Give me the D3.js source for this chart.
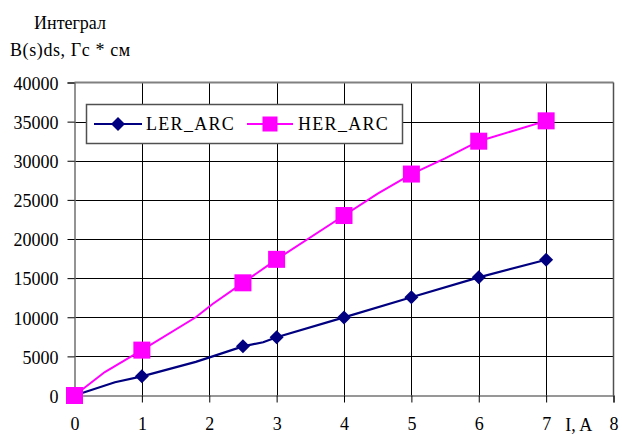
<!DOCTYPE html>
<html>
<head>
<meta charset="utf-8">
<script src="https://cdn.jsdelivr.net/npm/d3@7"></script>
<style>
html,body{margin:0;padding:0;background:#fff;}
svg{display:block;}
</style>
</head>
<body>
<svg id="chart" width="622" height="438"></svg>
<script>
// ---- data ----
const xTicks = [0, 1, 2, 3, 4, 5, 6, 7, 8];
const yTicks = [0, 5000, 10000, 15000, 20000, 25000, 30000, 35000, 40000];
const seriesNames = ["LER_ARC", "HER_ARC"];

const lerMarkX = [0, 1, 2.5, 3, 4, 5, 6, 7];
const lerMarkY = [0, 2450, 6280, 7450, 9980, 12550, 15100, 17350];
const lerLineX = [0, 0.6, 1, 1.8, 2.05, 2.5, 2.8, 3, 4, 5, 6, 7];
const lerLineY = [0, 1700, 2450, 4300, 5000, 6280, 6800, 7450, 9980, 12550, 15100, 17350];

const herMarkX = [0, 1, 2.5, 3, 4, 5, 6, 7];
const herMarkY = [0, 5800, 14400, 17400, 23000, 28300, 32500, 35100];
const herLineX = [0, 0.45, 1, 1.8, 2.05, 2.5, 3, 4, 4.5, 5, 5.5, 6, 7];
const herLineY = [0, 3000, 5800, 10000, 11700, 14400, 17400, 23000, 25800, 28300, 30300, 32500, 35100];

const titleLines = ["Интеграл", "B(s)ds, Гс * см"];
const xLabel = "I, A";

// ---- layout ----
const FONT = "'Liberation Serif', 'DejaVu Serif', 'Times New Roman', serif";
const svg = d3.select("#chart");
const x = d3.scaleLinear().domain([0, 8]).range([74.5, 613.5]);
const y = d3.scaleLinear().domain([0, 40000]).range([395.5, 82.5]);

const LER = "#000080", HER = "#FF00FF";

// grid
const g = svg.append("g");
g.selectAll("line.vg").data(xTicks.slice(1, -1)).enter().append("line")
  .attr("x1", d => Math.round(x(d)) + 0.5).attr("x2", d => Math.round(x(d)) + 0.5)
  .attr("y1", y(40000)).attr("y2", y(0))
  .attr("stroke", "#000").attr("stroke-width", 1);
g.selectAll("line.hg").data(yTicks.slice(1, -1)).enter().append("line")
  .attr("x1", x(0)).attr("x2", x(8))
  .attr("y1", d => Math.round(y(d)) + 0.5).attr("y2", d => Math.round(y(d)) + 0.5)
  .attr("stroke", "#000").attr("stroke-width", 1);

// frame top/right
g.append("line").attr("x1", x(0)).attr("x2", x(8)).attr("y1", y(40000)).attr("y2", y(40000))
  .attr("stroke", "#808080").attr("stroke-width", 2);
g.append("line").attr("x1", x(8)).attr("x2", x(8)).attr("y1", y(40000)).attr("y2", y(0))
  .attr("stroke", "#505050").attr("stroke-width", 1.5);

// axes
const yAxis = d3.axisLeft(y).tickValues(yTicks).tickSize(7).tickPadding(9).tickFormat(d3.format("d"));
const ya = svg.append("g").attr("transform", `translate(${x(0)},0)`).call(yAxis);
ya.attr("font-family", FONT).attr("font-size", 18);
ya.select(".domain").attr("stroke", "#707070").attr("stroke-width", 1.5);
ya.selectAll(".tick line").attr("stroke", "#000");
ya.selectAll("text").style("font-family", FONT).style("font-size", "18px").attr("dy", "0.38em").attr("fill", "#000");

const xAxis = d3.axisBottom(x).tickValues(xTicks).tickSize(7).tickPadding(15).tickFormat(d3.format("d"));
const xa = svg.append("g").attr("transform", `translate(0,${y(0)})`).call(xAxis);
xa.attr("font-family", FONT).attr("font-size", 18);
xa.select(".domain").attr("stroke", "#303030").attr("stroke-width", 1.2);
xa.selectAll(".tick line").attr("stroke", "#000");
xa.selectAll("text").style("font-family", FONT).style("font-size", "18px").attr("fill", "#000");

svg.append("text").attr("x", (x(7) + x(8)) / 2 - 1).attr("y", 431)
  .attr("text-anchor", "middle").style("font-family", FONT).style("font-size", "18px").text(xLabel);

// title
svg.append("text").attr("x", 34).attr("y", 29).style("font-family", FONT).style("font-size", "18px").text(titleLines[0]);
svg.append("text").attr("x", 10).attr("y", 56).style("font-family", FONT).style("font-size", "18px").style("letter-spacing", "0.6px").text(titleLines[1]);

// lines
const line = d3.line().x(d => x(d[0])).y(d => y(d[1]));
const lerLine = lerLineX.map((v, i) => [v, lerLineY[i]]);
const herLine = herLineX.map((v, i) => [v, herLineY[i]]);
svg.append("path").datum(herLine).attr("d", line).attr("fill", "none").attr("stroke", HER).attr("stroke-width", 2);
svg.append("path").datum(lerLine).attr("d", line).attr("fill", "none").attr("stroke", LER).attr("stroke-width", 2.2);

// markers
const lerPts = lerMarkX.map((v, i) => [v, lerMarkY[i]]);
const herPts = herMarkX.map((v, i) => [v, herMarkY[i]]);
const diamond = (cx, cy, r) => `M${cx},${cy - r}L${cx + r},${cy}L${cx},${cy + r}L${cx - r},${cy}Z`;
svg.selectAll("path.ler").data(lerPts).enter().append("path")
  .attr("d", d => diamond(x(d[0]), y(d[1]), 7)).attr("fill", LER);
const sq = 17;
svg.selectAll("rect.her").data(herPts).enter().append("rect")
  .attr("x", d => x(d[0]) - sq / 2).attr("y", d => y(d[1]) - sq / 2)
  .attr("width", sq).attr("height", sq).attr("fill", HER);

// legend
const lg = svg.append("g");
lg.append("rect").attr("x", 86.5).attr("y", 104.5).attr("width", 316).attr("height", 39)
  .attr("fill", "#fff").attr("stroke", "#505050").attr("stroke-width", 1.5);
const ly = 124;
lg.append("line").attr("x1", 94).attr("x2", 142).attr("y1", ly).attr("y2", ly).attr("stroke", LER).attr("stroke-width", 2);
lg.append("path").attr("d", diamond(118, ly, 7)).attr("fill", LER);
lg.append("text").attr("x", 146).attr("y", ly + 6).style("font-family", FONT).style("font-size", "18px").style("letter-spacing", "1.3px").text(seriesNames[0]);
lg.append("line").attr("x1", 247).attr("x2", 293).attr("y1", ly).attr("y2", ly).attr("stroke", HER).attr("stroke-width", 2);
lg.append("rect").attr("x", 270 - 7.5).attr("y", ly - 7.5).attr("width", 15).attr("height", 15).attr("fill", HER);
lg.append("text").attr("x", 298).attr("y", ly + 6).style("font-family", FONT).style("font-size", "18px").style("letter-spacing", "1.3px").text(seriesNames[1]);
</script>
</body>
</html>
